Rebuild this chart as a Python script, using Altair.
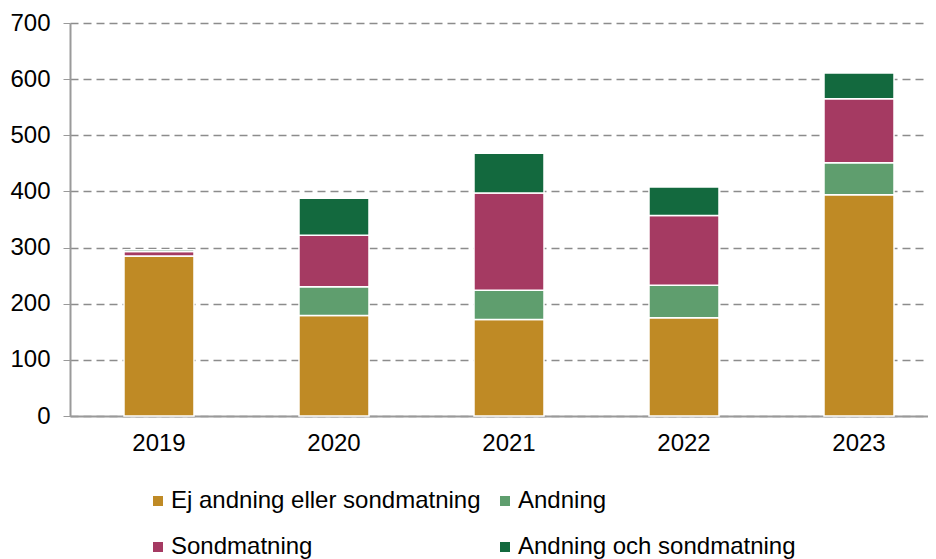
import altair as alt
import pandas as pd

years = ["2019", "2020", "2021", "2022", "2023"]
categories = ["Ej andning eller sondmatning", "Andning", "Sondmatning", "Andning och sondmatning"]
ej = [285, 179, 172, 175, 394]
andning = [0, 51, 52, 58, 57]
sond = [8, 92, 173, 124, 114]
aos = [3, 66, 71, 51, 46]
colors = ["#BF8A25", "#5F9E6E", "#A53A62", "#13693E"]
y_ticks = [0, 100, 200, 300, 400, 500, 600, 700]

rows = []
for k, (cat, vals) in enumerate(zip(categories, [ej, andning, sond, aos])):
    for yr, v in zip(years, vals):
        rows.append({"year": yr, "cat": cat, "value": v, "order": k})
df = pd.DataFrame(rows)

chart = alt.Chart(df).mark_bar(stroke="white", strokeWidth=1.5).encode(
    x=alt.X("year:N", sort=years,
            scale=alt.Scale(paddingInner=0.6, paddingOuter=0.2514, align=0.6136),
            axis=alt.Axis(title=None, labelAngle=0, ticks=False, labelPadding=15,
                          domainColor="#9a9a9a", domainWidth=2, labelFontSize=24,
                          labelColor="black")),
    y=alt.Y("value:Q", stack="zero",
            scale=alt.Scale(domain=[0, 700], nice=False),
            axis=alt.Axis(title=None, values=y_ticks, grid=True, gridDash=[8, 5],
                          gridColor="#8c8c8c", gridWidth=1.5, tickSize=7,
                          tickColor="#9a9a9a", domainColor="#9a9a9a", domainWidth=2,
                          labelPadding=13, labelFontSize=24, labelColor="black")),
    color=alt.Color("cat:N", sort=categories,
                    scale=alt.Scale(domain=categories, range=colors),
                    legend=alt.Legend(title=None, orient="none", legendX=76, legendY=466,
                                      direction="horizontal",
                                      columns=2, columnPadding=12, rowPadding=22,
                                      symbolType="square", symbolSize=100,
                                      symbolStrokeWidth=0, labelFontSize=24,
                                      labelOffset=1, labelColor="black", padding=0,
                                      labelLimit=500)),
    order=alt.Order("order:Q"),
).properties(
    width=858, height=393,
    autosize=alt.AutoSizeParams(type="none"),
    padding={"left": 62, "top": 15, "right": 0, "bottom": 143},
).configure(font="Liberation Sans").configure_view(strokeWidth=0)

chart.save("out.html", embed_options={"renderer": "svg", "actions": False})
